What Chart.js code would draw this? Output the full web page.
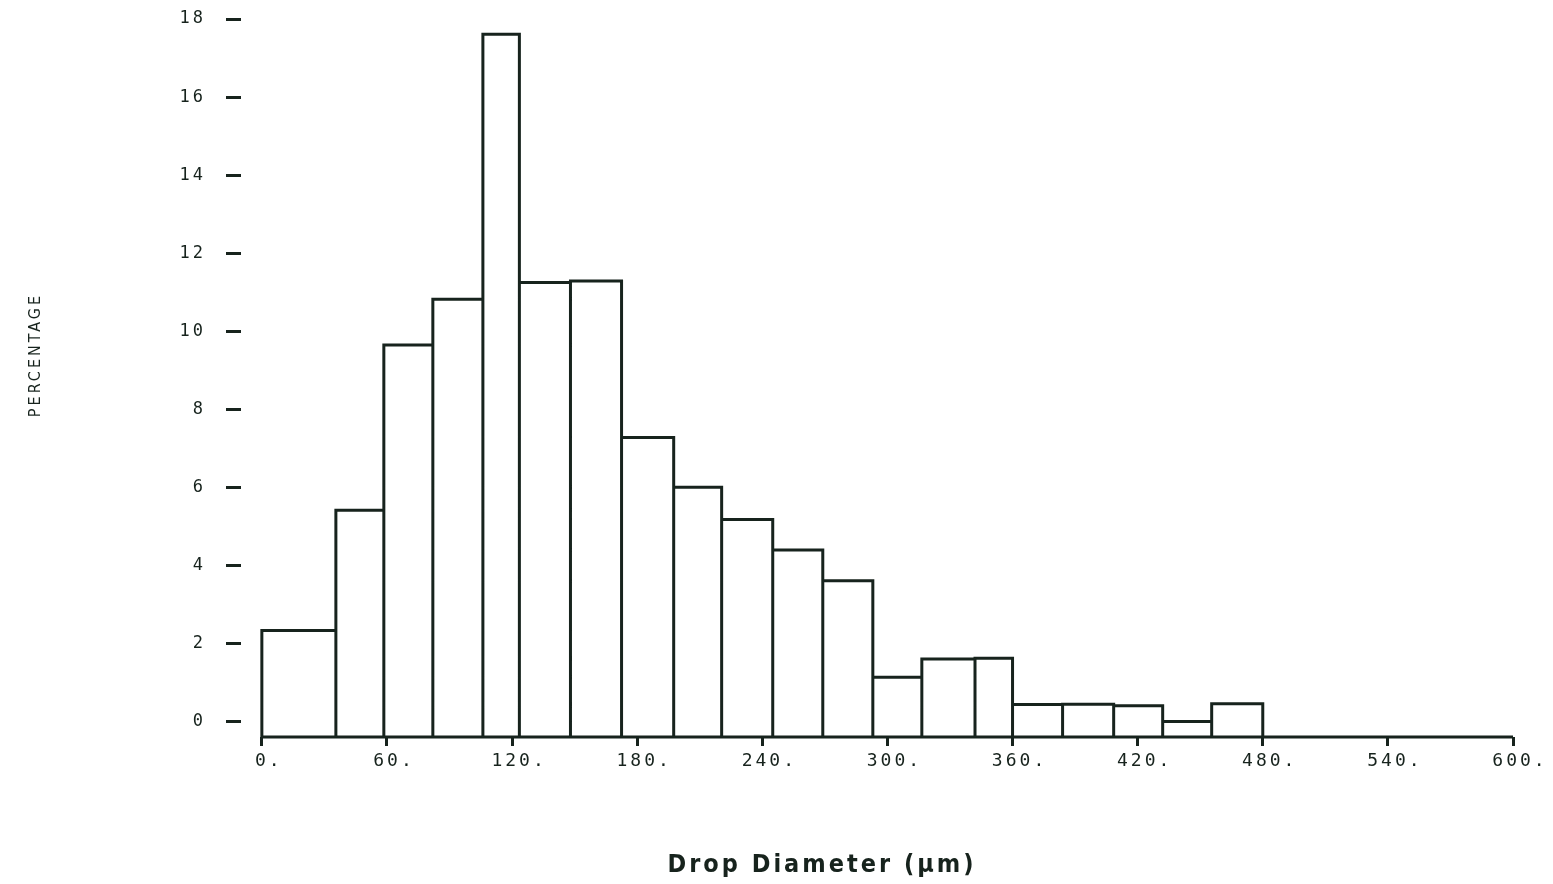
<!DOCTYPE html>
<html>
<head>
<meta charset="utf-8">
<title>Drop diameter histogram</title>
<script src="https://cdn.jsdelivr.net/npm/chart.js@4.4.1/dist/chart.umd.min.js"></script>
<style>
  html, body { margin: 0; padding: 0; background: #fff; }
  #wrap { width: 1553px; height: 884px; }
</style>
</head>
<body>
<div id="wrap"><canvas id="hist" width="1553" height="884"></canvas></div>
<script>
/* Drop size distribution — plotter-style histogram, outlines only. */

// bin edges (µm) and the percentage in each bin
const BIN_EDGES = [0, 35.5, 58.5, 82, 106, 123.5, 148, 172.5, 197.5, 220.5, 245,
                   269, 293, 316.5, 342, 360, 384, 408.5, 432, 455.5, 480];
const PERCENT = [2.34, 5.42, 9.65, 10.82, 17.61, 11.25, 11.29, 7.28, 6.01, 5.18,
                 4.40, 3.61, 1.14, 1.61, 1.63, 0.44, 0.45, 0.41, 0.01, 0.46];

const X_TICKS = [0, 60, 120, 180, 240, 300, 360, 420, 480, 540, 600];
const X_TICK_LABELS = ["0.", "60.", "120.", "180.", "240.", "300.", "360.", "420.", "480.", "540.", "600."];
const Y_TICKS = [0, 2, 4, 6, 8, 10, 12, 14, 16, 18];

const X_TITLE = "Drop Diameter (µm)";
const Y_TITLE = "PERCENTAGE";

const INK = "#17231d";
const MONO = "'DejaVu Sans Mono', monospace";
const FLOOR = -0.39;   // the plotter drew its axis line a little under zero

// trace every bin as a closed rectangle down to the axis line
const outline = [];
PERCENT.forEach((p, i) => {
  const l = BIN_EDGES[i], r = BIN_EDGES[i + 1];
  outline.push({ x: l, y: FLOOR }, { x: l, y: p }, { x: r, y: p }, { x: r, y: FLOOR });
});
const axisLine = [{ x: X_TICKS[0], y: FLOOR }, { x: X_TICKS[X_TICKS.length - 1], y: FLOOR }];

// axis titles sit off-centre in the original, so they are placed by hand
const plotterLook = {
  id: "plotterLook",
  beforeDraw(chart) {
    chart.ctx.letterSpacing = "3px";
  },
  afterDraw(chart) {
    const ctx = chart.ctx;
    ctx.save();
    ctx.fillStyle = INK;
    ctx.textAlign = "center";
    ctx.textBaseline = "middle";

    ctx.letterSpacing = "3px";
    ctx.font = "bold 25px 'DejaVu Sans Condensed', sans-serif";
    ctx.fillText(X_TITLE, 822, 865);

    ctx.translate(36, 355);
    ctx.rotate(-Math.PI / 2);
    ctx.letterSpacing = "3px";
    ctx.font = "16px 'DejaVu Sans Condensed', 'DejaVu Sans', sans-serif";
    ctx.fillText(Y_TITLE, 0, 0);
    ctx.restore();
  },
};

// let layout.padding alone decide where the plot box sits
const noLabelPadding = (s) => {
  s.paddingTop = 0; s.paddingBottom = 0; s.paddingLeft = 0; s.paddingRight = 0;
};

new Chart(document.getElementById("hist"), {
  type: "line",
  data: {
    datasets: [
      { data: outline, borderColor: INK, borderWidth: 3, pointRadius: 0, tension: 0,
        borderJoinStyle: "miter", fill: false, clip: false },
      { data: axisLine, borderColor: INK, borderWidth: 3, pointRadius: 0, fill: false, clip: false },
    ],
  },
  options: {
    responsive: false,
    animation: false,
    layout: { padding: { top: 19, right: 40, left: 0, bottom: 0 } },
    plugins: { legend: { display: false }, tooltip: { enabled: false } },
    scales: {
      x: {
        type: "linear",
        min: -10,
        max: 600,
        afterBuildTicks: (s) => { s.ticks = X_TICKS.map((v) => ({ value: v })); },
        afterFit: (s) => { s.height = 147; noLabelPadding(s); },
        grid: { drawOnChartArea: false, drawTicks: true, tickLength: 9, tickWidth: 3, tickColor: INK },
        border: { display: false },
        ticks: {
          color: INK, font: { family: MONO, size: 18 }, padding: 5, labelOffset: 7, maxRotation: 0,
          callback: (v, i) => X_TICK_LABELS[i],
        },
      },
      y: {
        min: FLOOR,
        max: 18,
        afterBuildTicks: (s) => { s.ticks = Y_TICKS.map((v) => ({ value: v })); },
        afterFit: (s) => { s.width = 241; noLabelPadding(s); },
        grid: { drawOnChartArea: false, drawTicks: true, tickLength: 15, tickWidth: 3, tickColor: INK },
        border: { display: false },
        ticks: { color: INK, font: { family: MONO, size: 17 }, padding: 20 },
      },
    },
  },
  plugins: [plotterLook],
});
</script>
</body>
</html>
